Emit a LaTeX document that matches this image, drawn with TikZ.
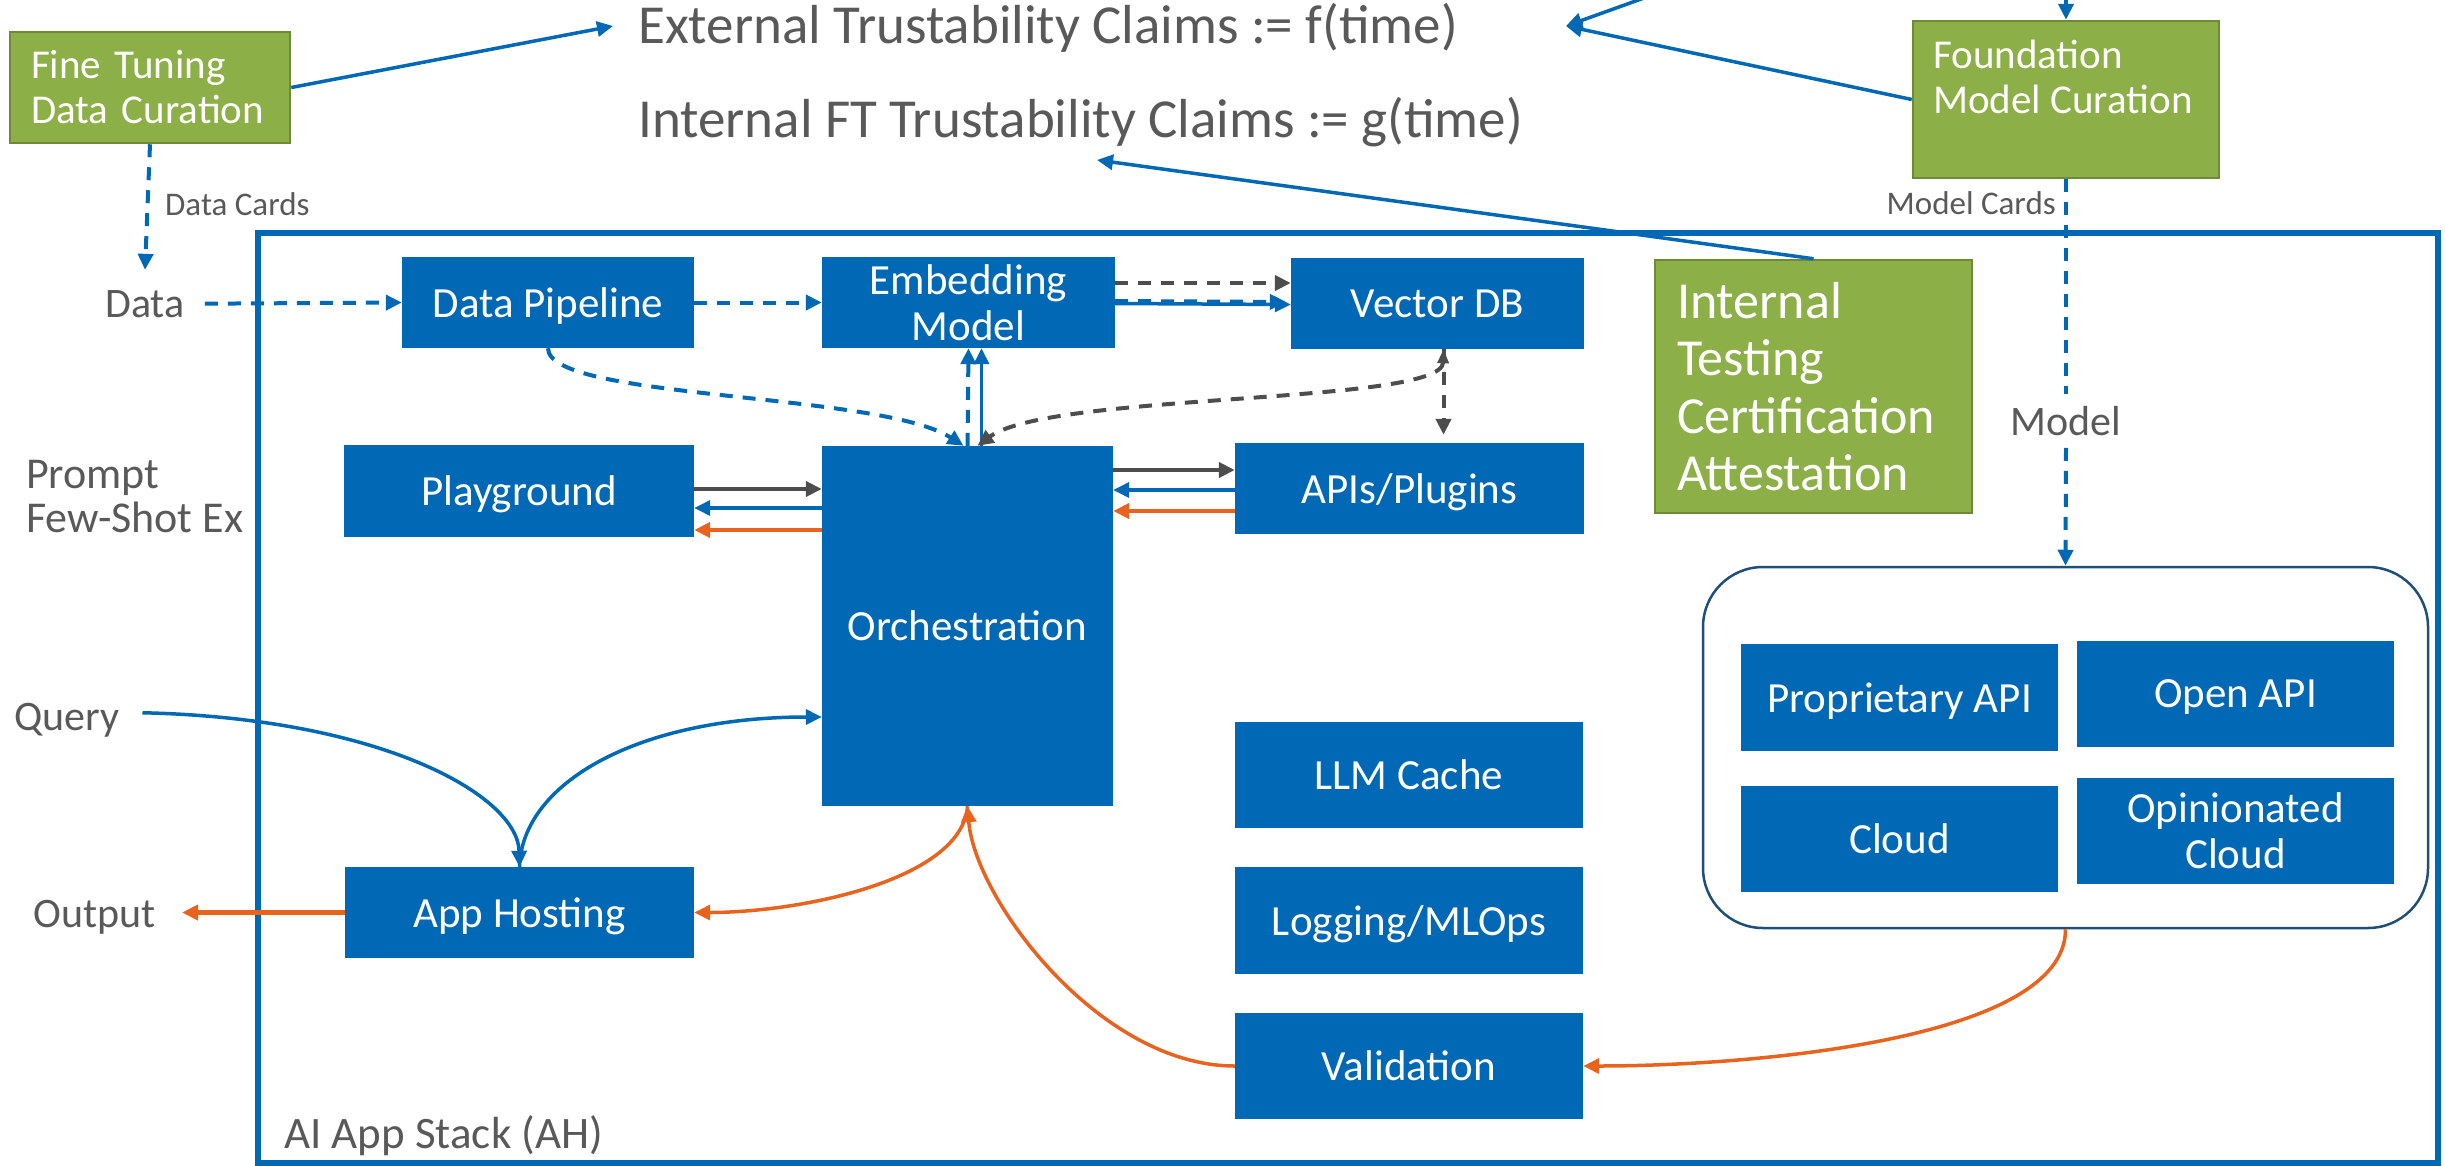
\documentclass[tikz,border=0pt]{standalone}
\usepackage{fontspec}
\setmainfont{Carlito}
\usetikzlibrary{arrows.meta}

\definecolor{iblue}{HTML}{0068B5}
\definecolor{igreen}{HTML}{8CAF47}
\definecolor{igreenD}{HTML}{6E8A38}
\definecolor{cdark}{HTML}{1F4E79}
\definecolor{tgrey}{HTML}{595959}
\definecolor{agrey}{HTML}{4D4D4D}
\definecolor{iorange}{HTML}{E8641E}

\begin{document}
\begin{tikzpicture}[x=1pt,y=-1pt,
  tip/.style={-{Triangle[length=16pt,width=15pt]}},
  bluebox/.style={fill=iblue, draw=none, text=white, align=center, inner sep=0pt,
    font=\fontsize{43}{46}\selectfont},
  oneline/.style={bluebox, text depth=0pt},
  greenbox/.style={fill=igreen, draw=igreenD, line width=2.5pt, text=white, inner sep=0pt},
  lbl/.style={text=tgrey, inner sep=0pt, font=\fontsize{42}{46}\selectfont},
  claim/.style={text=tgrey, inner sep=0pt, font=\fontsize{55}{60}\selectfont},
  smalllbl/.style={text=tgrey, inner sep=0pt, font=\fontsize{33}{36}\selectfont},
  bl/.style={draw=iblue, line width=3.5pt, tip},
  bdash/.style={draw=iblue, line width=4pt, dash pattern=on 13pt off 10pt},
  gr/.style={draw=agrey, line width=4.5pt, tip},
  gdash/.style={draw=agrey, line width=4pt, dash pattern=on 13pt off 10pt},
  orr/.style={draw=iorange, line width=4.5pt, tip},
]
\useasboundingbox (0,0) rectangle (2445,1165);

% ---- outer stack frame and provider container
\node[draw=iblue, line width=5.5pt, minimum width=2180, minimum height=930, inner sep=0pt] (stack) at (1348,698) {};
\node[lbl, font=\fontsize{45}{48}\selectfont, anchor=base west] (stacklbl) at (284,1148) {AI App Stack (AH)};
\node[draw=cdark, line width=2.5pt, rounded corners=60pt, minimum width=725, minimum height=361, inner sep=0pt] (cont) at (2065.5,747.5) {};

% ---- claims text
\node[claim, anchor=base west] (ext) at (638,43) {External Trustability Claims := f(time)};
\node[claim, anchor=base west] (intc) at (638,137) {Internal FT Trustability Claims := g(time)};

% ---- curation / testing boxes
\node[greenbox, minimum width=280, minimum height=111, text width=238, align=left,
      font=\fontsize{41}{45}\selectfont] (ft) at (150,87.5) {Fine Tuning\\Data Curation};
\node[greenbox, minimum width=306, minimum height=157] (fm) at (2066,99.5) {};
\node[anchor=north west, text=white, align=left, inner sep=0pt,
      font=\fontsize{41}{45}\selectfont] (fmt) at (1933,40) {Foundation\\Model Curation};
\node[greenbox, minimum width=317, minimum height=253, text width=273, align=left,
      font=\fontsize{52}{57.5}\selectfont] (itc) at (1813.5,386.5) {Internal\\Testing\\Certification\\Attestation};

% ---- stack components
\node[oneline, minimum width=292, minimum height=91] (dp) at (548,302.5) {Data Pipeline};
\node[bluebox, minimum width=293, minimum height=91] (emb) at (968.5,302.5) {Embedding\\Model};
\node[oneline, minimum width=293, minimum height=91] (vdb) at (1437.5,303.5) {Vector DB};
\node[oneline, minimum width=291, minimum height=360] (orch) at (967.5,626) {Orchestration};
\node[oneline, minimum width=349, minimum height=91] (api) at (1409.5,488.5) {APIs/Plugins};
\node[oneline, minimum width=350, minimum height=92] (play) at (519,491) {Playground};
\node[oneline, minimum width=349, minimum height=91] (host) at (519.5,912.5) {App Hosting};
\node[oneline, minimum width=348, minimum height=106] (cache) at (1409,775) {LLM Cache};
\node[oneline, minimum width=348, minimum height=107] (logm) at (1409,920.5) {Logging/MLOps};
\node[oneline, minimum width=348, minimum height=106] (val) at (1409,1066) {Validation};

% ---- model providers
\node[oneline, minimum width=317, minimum height=107] (prop) at (1899.5,697.5) {Proprietary API};
\node[oneline, minimum width=317, minimum height=106] (open) at (2235.5,694) {Open API};
\node[oneline, minimum width=317, minimum height=106] (cloud) at (1899.5,839) {Cloud};
\node[bluebox, minimum width=317, minimum height=106] (opc) at (2235.5,831) {Opinionated\\Cloud};

% ---- side labels
\node[lbl, anchor=base, inner sep=20pt] (data) at (145,317) {Data};
\node[lbl, anchor=west, align=left, font=\fontsize{44}{44}\selectfont] (prompt) at (26,497) {Prompt\\Few-Shot Ex};
\node[lbl, anchor=base west] (query) at (14,730) {Query};
\node[lbl, anchor=base west] (out) at (33,927) {Output};
\node[lbl, inner sep=12pt] (model) at (2066,421) {Model};
\node[smalllbl, anchor=base west] (dcards) at (165,215) {Data Cards};
\node[smalllbl, anchor=base east] (mcards) at (2056,214) {Model Cards};

% ---- free ends
\coordinate (extTipL) at (613,26);
\coordinate (extTipR) at (1566,26);
\coordinate (intTip) at (1097,160);
\coordinate (topA) at (1644,-2);
\coordinate (topB) at (2066,-2);
\coordinate (outTip) at (182,912.5);

% ---- claims arrows
\draw[bl] (ft.east) -- (extTipL);
\draw[bl] (fm.west) -- (extTipR);
\draw[bl] (topA) -- (extTipR);
\draw[bl] (itc.north) -- (intTip);
\draw[bdash, tip] (topB) -- (fm.north);

% ---- cards
\draw[bdash, tip] (ft.south) -- (data.north);
\draw[bdash] (fm.south) -- (model.north);
\draw[bdash, tip] (model.south) -- (cont.north);

% ---- data ingestion
\draw[bdash, tip] (data.east) -- (dp.west);
\draw[bdash, tip] (dp.east) -- (emb.west);
\draw[gdash, tip] ([yshift=19.5]emb.east) -- ([yshift=20.5]vdb.west);
\draw[bdash, tip] ([yshift=1.5]emb.east) -- ([xshift=-5,yshift=1.5]vdb.west);
\draw[bl] ([yshift=-1]emb.east) -- ([yshift=-1]vdb.west);
\draw[bdash, tip] (orch.north) -- (emb.south);
\draw[bl] ([xshift=14]orch.north) -- ([xshift=13]emb.south);
\draw[bdash, tip] (dp.south) .. controls (548,400) and (880,392) .. ([xshift=-4]orch.north);
\draw[gdash, {Triangle[length=14pt,width=11pt]}-{Triangle[length=16pt,width=15pt]}]
  ([xshift=6]vdb.south) .. controls (1442,405) and (1050,392) .. ([xshift=10]orch.north);
\draw[gdash, tip, shorten >=8pt] ([xshift=6]vdb.south) -- ([xshift=34]api.north);

% ---- orchestration <-> tools
\draw[gr] ([yshift=156]orch.east) -- ([yshift=18.5]api.west);
\draw[bl] ([yshift=-1.5]api.west) -- ([yshift=136]orch.east);
\draw[orr] ([yshift=-22.5]api.west) -- ([yshift=115]orch.east);
\draw[gr] ([yshift=2]play.east) -- ([yshift=137]orch.west);
\draw[bl] ([yshift=118]orch.west) -- ([yshift=-17]play.east);
\draw[orr] ([yshift=96]orch.west) -- ([yshift=-39]play.east);

% ---- query / response path
\draw[bl] ([xshift=23,yshift=7]query.east) .. controls (380,718) and (518,795) .. (host.north);
\draw[bl] (host.north) .. controls (522,782) and (640,717) .. ([yshift=-91]orch.west);
\draw[orr] (host.west) -- (outTip);
\draw[orr, line width=3.5pt] (orch.south) .. controls (962,880) and (800,912.5) .. (host.east);
\draw[orr, line width=3.5pt] (val.west) .. controls (1100,1066) and (975,900) .. (orch.south);
\draw[orr, line width=3.5pt] (cont.south) .. controls (2066,1040) and (1750,1066) .. (val.east);
\end{tikzpicture}
\end{document}
